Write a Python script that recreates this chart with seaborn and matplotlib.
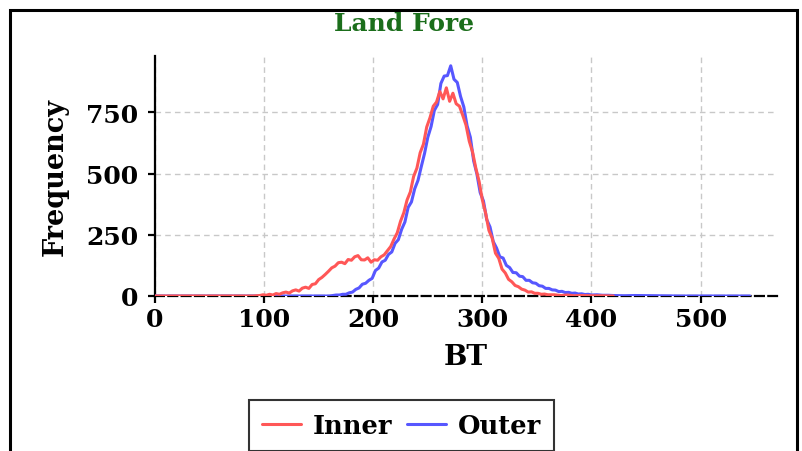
import matplotlib
matplotlib.use("Agg")
import matplotlib.pyplot as plt
from matplotlib.patches import Rectangle
import seaborn as sns
import pandas as pd

# ---- data ----
inner_bt = [0, 90, 96, 99, 102, 105, 108, 111, 114, 117, 120, 123, 126, 129, 132, 135, 138, 141, 144, 147,
            150, 153, 156, 159, 162, 165, 168, 171, 174, 177, 180, 183, 186, 189, 192, 195, 198, 201, 204,
            207, 210, 213, 216, 219, 222, 225, 228, 231, 234, 237, 240, 243, 246, 249, 252, 255, 258, 261,
            264, 267, 270, 273, 276, 279, 282, 285, 288, 291, 294, 297, 300, 303, 306, 309, 312, 315, 318,
            321, 324, 327, 330, 333, 336, 339, 342, 345, 348, 351, 354, 357, 360, 366, 372, 378, 384, 390,
            400, 410, 420]
inner_count = [0, 0, 2, 5, 3, 7, 4, 10, 7, 13, 16, 12, 21, 25, 20, 32, 36, 31, 47, 50,
               67, 76, 88, 101, 115, 122, 136, 138, 132, 149, 146, 160, 165, 148, 147, 156, 138, 148, 146,
               160, 168, 185, 202, 232, 258, 305, 340, 392, 425, 488, 522, 585, 620, 690, 728, 775, 792, 835,
               805, 850, 795, 828, 785, 775, 738, 698, 632, 588, 522, 468, 392, 338, 268, 236, 175, 154, 110,
               94, 68, 58, 43, 38, 28, 24, 16, 17, 11, 11, 7, 8, 5, 5, 2, 4, 1, 2,
               1, 1, 0]

outer_bt = [0, 160, 163, 166, 169, 172, 175, 178, 181, 184, 187, 190, 193, 196, 199, 202, 205, 208, 211,
            214, 217, 220, 223, 226, 229, 232, 235, 238, 241, 244, 247, 250, 253, 256, 259, 262, 265, 268,
            271, 274, 277, 280, 283, 286, 289, 292, 295, 298, 301, 304, 307, 310, 313, 316, 319, 322, 325,
            328, 331, 334, 337, 340, 343, 346, 349, 352, 355, 358, 361, 364, 367, 370, 373, 376, 379, 382,
            385, 388, 391, 394, 397, 400, 405, 410, 415, 420, 430, 440, 460, 480, 545]
outer_count = [0, 0, 2, 4, 4, 7, 7, 13, 16, 27, 33, 48, 52, 64, 72, 104, 114, 139, 146,
               170, 180, 215, 230, 272, 302, 362, 384, 438, 472, 528, 582, 648, 692, 758, 782, 868, 898, 900,
               940, 885, 872, 815, 772, 695, 648, 552, 498, 422, 388, 312, 282, 222, 196, 160, 155, 125, 116,
               96, 95, 81, 79, 64, 64, 54, 52, 42, 40, 31, 31, 25, 24, 18, 19, 14, 15, 11,
               12, 8, 9, 6, 7, 4, 5, 3, 3, 2, 1, 2, 1, 0, 0]

x_ticks = [0, 100, 200, 300, 400, 500]
y_ticks = [0, 250, 500, 750]
title = "Land Fore"
series_names = ["Inner", "Outer"]
colors = {"Inner": "#FF5757", "Outer": "#5757FF"}

df_inner = pd.DataFrame({"BT": inner_bt, "Frequency": inner_count})
df_outer = pd.DataFrame({"BT": outer_bt, "Frequency": outer_count})

sns.set_theme(style="white")
plt.rcParams["font.family"] = ["DejaVu Serif"]
plt.rcParams["font.weight"] = "bold"
plt.rcParams["text.color"] = "black"

fig = plt.figure(figsize=(8.03, 4.52), dpi=100)
ax = fig.add_axes([155 / 803, 1 - 297 / 452, 622 / 803, 240 / 452])

sns.lineplot(data=df_outer, x="BT", y="Frequency", ax=ax, color=colors["Outer"],
             lw=2.2, errorbar=None, label="Outer", zorder=3)
sns.lineplot(data=df_inner, x="BT", y="Frequency", ax=ax, color=colors["Inner"],
             lw=2.2, errorbar=None, label="Inner", zorder=4)

ax.set_xlim(0, 570)
ax.set_ylim(0, 980)
ax.set_xticks(x_ticks)
ax.set_yticks(y_ticks)
ax.grid(True, color="#c8c8c8", linestyle=(0, (4, 3)), lw=1.0)
for s in ["top", "right"]:
    ax.spines[s].set_visible(False)
ax.spines["left"].set_color("black")
ax.spines["left"].set_linewidth(1.6)
ax.spines["bottom"].set_color("black")
ax.spines["bottom"].set_linewidth(1.6)
ax.spines["bottom"].set_linestyle((0, (4, 2)))
ax.tick_params(axis="both", which="major", direction="out", length=5, width=1.6,
               color="black", labelsize=18, labelcolor="black",
               bottom=True, left=True)
ax.tick_params(axis="y", pad=7)
ax.tick_params(axis="x", pad=3)
for lab in ax.get_xticklabels() + ax.get_yticklabels():
    lab.set_fontweight("bold")

ax.set_xlabel("BT", fontsize=20, fontweight="bold", color="black")
ax.set_ylabel("Frequency", fontsize=19.5, fontweight="bold", color="black")
ax.xaxis.set_label_coords(0.5, -0.195)
ax.yaxis.set_label_coords(-0.138, 0.5)

fig.text(0.503, 1 - 24 / 452, title, ha="center", va="center", fontsize=18,
         fontweight="bold", color="#1B6E1B")

h, l = ax.get_legend_handles_labels()
order = [l.index(n) for n in series_names]
leg = fig.legend([h[i] for i in order], [l[i] for i in order], loc="lower center",
                 bbox_to_anchor=(0.5, -0.005), ncol=2, frameon=True, fancybox=False,
                 prop={"family": "DejaVu Serif", "weight": "bold", "size": 18.5},
                 handlelength=1.5, handletextpad=0.45, columnspacing=0.6,
                 borderpad=0.5, borderaxespad=0.1)
if ax.get_legend():
    ax.get_legend().remove()
for t in leg.get_texts():
    t.set_color("black")
leg.get_frame().set_edgecolor("black")
leg.get_frame().set_linewidth(1.5)
for line in leg.get_lines():
    line.set_linewidth(2.2)

fig.patches.append(Rectangle((10 / 803, -0.2), 787 / 803, 1.2 - 11 / 452,
                             transform=fig.transFigure, fill=False, edgecolor="black",
                             lw=2.2, zorder=10))

fig.savefig("out.png", dpi=100)
